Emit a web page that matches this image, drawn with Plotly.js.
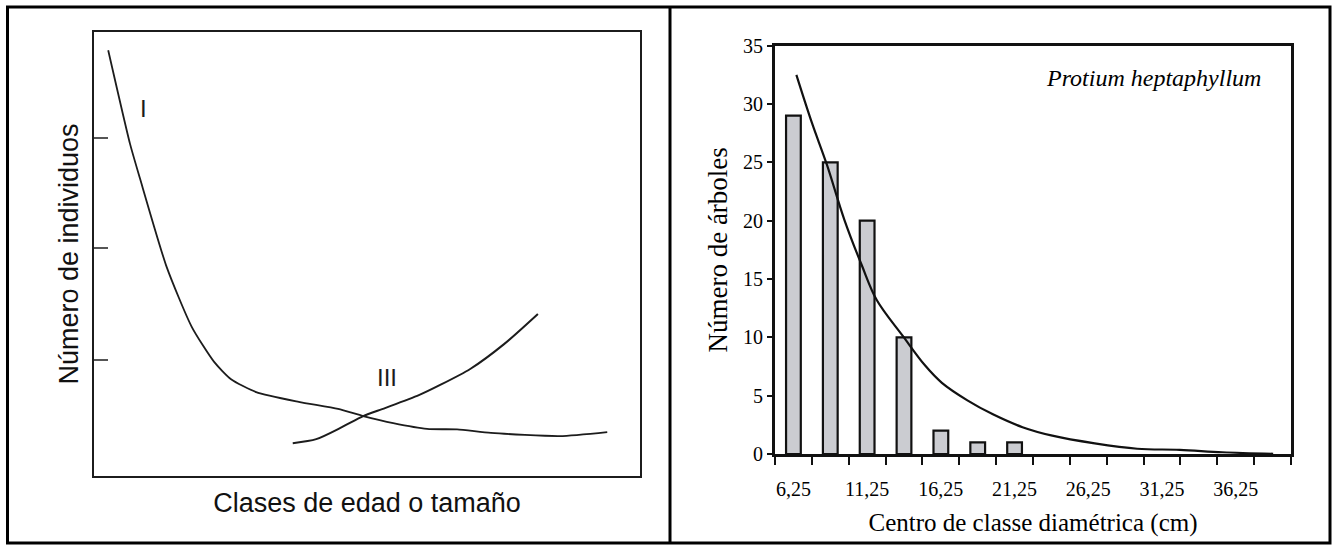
<!DOCTYPE html>
<html>
<head>
<meta charset="utf-8">
<script src="https://cdn.plot.ly/plotly-3.0.1.min.js"></script>
<style>
html,body{margin:0;padding:0;background:#fff;}
#chart{width:1336px;height:551px;}
</style>
</head>
<body>
<div id="chart"></div>
<script>
// ---------- Left panel: schematic survivorship curves (arbitrary units 0-100) ----------
const curveIX = [2.6, 6.6, 8.4, 13.3, 17.9, 22.0, 25.1, 29.7, 37.5, 44.7, 49.3, 54.8, 61.0, 66.5, 72.7, 85.3, 94.0];
const curveIY = [95.9, 74.8, 67.1, 47.1, 33.6, 25.7, 21.8, 18.9, 16.7, 15.1, 13.5, 11.9, 10.6, 10.5, 9.7, 9.0, 9.9];
const curveIIIX = [36.4, 40.7, 45.4, 49.3, 53.3, 59.5, 63.4, 68.9, 75.1, 81.3];
const curveIIIY = [7.4, 8.3, 11.0, 13.5, 15.3, 18.2, 20.5, 24.1, 29.7, 36.5];
const leftTickVals = [26.1, 51.4, 76.2];
const curveLabels = ["I", "III"];
const curveLabelX = [9.0, 53.7];
const curveLabelY = [82.7, 22.1];

// ---------- Right panel: Protium heptaphyllum diameter distribution ----------
const classCenters = [6.25, 8.75, 11.25, 13.75, 16.25, 18.75, 21.25, 23.75, 26.25, 28.75, 31.25, 33.75, 36.25, 38.75];
const treeCounts = [29, 25, 20, 10, 2, 1, 1, 0, 0, 0, 0, 0, 0, 0];
const fitX = [6.45, 7.5, 8.52, 9.7, 10.88, 11.9, 13.68, 15.17, 16.32, 18.05, 19.78, 21.79, 23.81, 26.69, 29.57, 32.45, 35.34, 38.79];
const fitY = [32.5, 28.4, 24.8, 20.1, 16.2, 13.2, 10.1, 7.6, 6.1, 4.6, 3.4, 2.3, 1.57, 0.91, 0.45, 0.36, 0.15, 0.02];
const xLabelVals = [6.25, 11.25, 16.25, 21.25, 26.25, 31.25, 36.25];
const xLabelText = ["6,25", "11,25", "16,25", "21,25", "26,25", "31,25", "36,25"];
const yTickVals = [0, 5, 10, 15, 20, 25, 30, 35];

const W = 1336, H = 551;
const px = v => v / W;
const py = v => 1 - v / H;

const sans = "Liberation Sans, Arial, sans-serif";
const serif = "Liberation Serif, Times New Roman, serif";

// empty classes have no visible bar in the original
const barHeights = treeCounts.map(v => (v === 0 ? null : v));

const traces = [
  {x: curveIX, y: curveIY, xaxis: 'x', yaxis: 'y', type: 'scatter', mode: 'lines',
   line: {color: '#1c1c1c', width: 1.8, shape: 'spline', smoothing: 0.6}, hoverinfo: 'skip'},
  {x: curveIIIX, y: curveIIIY, xaxis: 'x', yaxis: 'y', type: 'scatter', mode: 'lines',
   line: {color: '#1c1c1c', width: 2, shape: 'spline', smoothing: 0.7}, hoverinfo: 'skip'},
  {x: classCenters, y: barHeights, xaxis: 'x2', yaxis: 'y2', type: 'bar', width: 1.0,
   marker: {color: '#cbccd1', line: {color: '#111', width: 2.2}}},
  {x: fitX, y: fitY, xaxis: 'x2', yaxis: 'y2', type: 'scatter', mode: 'lines',
   line: {color: '#111', width: 2.2, shape: 'spline', smoothing: 1}}
];

const annotations = [];
for (let i = 0; i < curveLabels.length; i++) {
  annotations.push({x: curveLabelX[i], y: curveLabelY[i], xref: 'x', yref: 'y', text: curveLabels[i],
    showarrow: false, font: {family: sans, size: 24, color: '#1c1c1c'}});
}
annotations.push({x: 38.1, y: 32.2, xref: 'x2', yref: 'y2', xanchor: 'right', text: '<i>Protium heptaphyllum</i>',
  showarrow: false, font: {family: serif, size: 24, color: '#000'}});

const layout = {
  width: W, height: H,
  margin: {l: 0, r: 0, t: 0, b: 0},
  paper_bgcolor: '#fff', plot_bgcolor: '#fff',
  showlegend: false,
  xaxis: {domain: [px(94), px(640)], range: [0, 100], showgrid: false, zeroline: false,
    showline: true, mirror: true, linecolor: '#1c1c1c', linewidth: 2, ticks: '', showticklabels: false,
    title: {text: 'Clases de edad o tamaño', font: {family: sans, size: 27, color: '#111'}, standoff: 16},
    anchor: 'y', fixedrange: true},
  yaxis: {domain: [py(476), py(32)], range: [0, 100], showgrid: false, zeroline: false,
    showline: true, mirror: true, linecolor: '#1c1c1c', linewidth: 2,
    tickmode: 'array', tickvals: leftTickVals, ticks: 'inside', ticklen: 14, tickwidth: 2, tickcolor: '#555',
    showticklabels: false,
    title: {text: 'Número de individuos', font: {family: sans, size: 27, color: '#111'}, standoff: 6},
    anchor: 'x', fixedrange: true},
  xaxis2: {domain: [px(775), px(1291)], range: [5, 40], showgrid: false, zeroline: false,
    showline: true, mirror: true, linecolor: '#111', linewidth: 3,
    tickmode: 'array', tickvals: xLabelVals, ticktext: xLabelText,
    ticks: 'outside', ticklen: 15, tickcolor: 'rgba(0,0,0,0)',
    tickfont: {family: serif, size: 20, color: '#000'},
    minor: {tick0: 5, dtick: 2.5, ticks: 'outside', ticklen: 8, tickwidth: 2, tickcolor: '#111'},
    title: {text: 'Centro de classe diamétrica (cm)', font: {family: serif, size: 25, color: '#000'}, standoff: 15},
    anchor: 'y2', fixedrange: true},
  yaxis2: {domain: [py(454), py(45.7)], range: [0, 35], showgrid: false, zeroline: false,
    showline: true, mirror: true, linecolor: '#111', linewidth: 3,
    tickmode: 'array', tickvals: yTickVals, ticks: 'outside', ticklen: 5, tickwidth: 2, tickcolor: '#111',
    tickfont: {family: serif, size: 20, color: '#000'},
    title: {text: 'Número de árboles', font: {family: serif, size: 27, color: '#000'}, standoff: 8},
    anchor: 'x2', fixedrange: true},
  annotations: annotations,
  shapes: [
    {type: 'rect', xref: 'paper', yref: 'paper', x0: px(7.5), x1: px(1330), y0: py(543), y1: py(7),
     line: {color: '#000', width: 3}, fillcolor: 'rgba(0,0,0,0)', layer: 'above'},
    {type: 'line', xref: 'paper', yref: 'paper', x0: px(670), x1: px(670), y0: py(543), y1: py(7),
     line: {color: '#000', width: 3}, layer: 'above'}
  ]
};

Plotly.newPlot('chart', traces, layout, {displayModeBar: false, staticPlot: true});
</script>
</body>
</html>
